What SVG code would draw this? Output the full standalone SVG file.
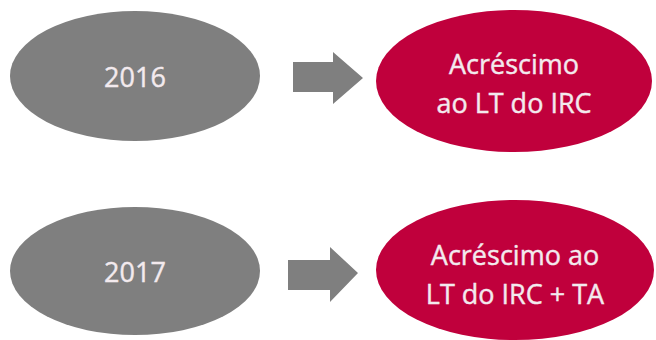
<svg xmlns="http://www.w3.org/2000/svg" width="656" height="340" viewBox="0 0 656 340">
<style>
.g{fill:#7f7f7f}
.r{fill:#c0003c}
.ar{fill:#7f7f7f}
text{font-family:"Open Sans","Noto Sans",sans-serif;font-size:27px;fill:#f3eaee;stroke:#f3eaee;stroke-width:0.4;text-anchor:middle}
</style>
<rect width="656" height="340" fill="#ffffff"/>
<g id="n2016"><ellipse class="g" cx="135" cy="76" rx="125" ry="65"/><text x="135" y="87">2016</text></g>
<g id="nres1"><ellipse class="r" cx="514" cy="81" rx="138" ry="71"/><text x="514" y="74">Acréscimo</text><text x="514" y="113">ao LT do IRC</text></g>
<g id="n2017"><ellipse class="g" cx="135" cy="271" rx="125" ry="64"/><text x="135" y="282">2017</text></g>
<g id="nres2"><ellipse class="r" cx="515" cy="270" rx="139" ry="70"/><text x="515" y="265">Acréscimo ao</text><text x="515" y="304">LT do IRC + TA</text></g>
<g id="connectors">
<polygon class="ar" points="293,62 333,62 333,52 363,78 333,104 333,92 293,92"/>
<polygon class="ar" points="288,260 330,260 330,247 358,273 330,302 330,290 288,290"/>
</g>
</svg>
